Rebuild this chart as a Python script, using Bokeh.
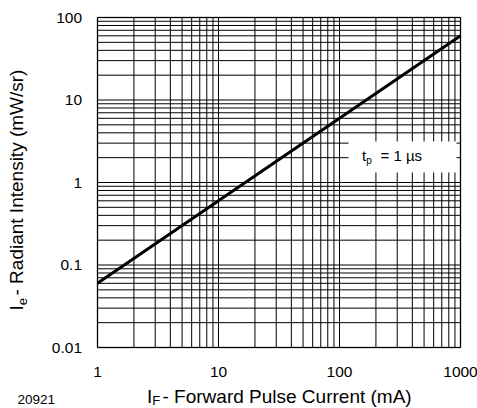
import numpy as np
from bokeh.plotting import figure
from bokeh.models import Label, BoxAnnotation, Range1d
from bokeh.core.properties import value
from bokeh.embed import file_html
from bokeh.resources import INLINE

# ---- data ----
forward_current_mA = [1, 1000]
radiant_intensity_mWsr = [0.06, 60]

x_major_ticks = [1, 10, 100, 1000]
x_tick_labels = ["1", "10", "100", "1000"]
x_minor_ticks = [m * d for d in (1, 10, 100) for m in range(2, 10)]

y_major_ticks = [0.01, 0.1, 1, 10, 100]
y_tick_labels = ["0.01", "0.1", "1", "10", "100"]
y_minor_ticks = [m * d for d in (0.01, 0.1, 1, 10) for m in range(2, 10)]

x_title = ("I", "F", " - Forward Pulse Current (mA)")
y_title = ("I", "e", " - Radiant Intensity (mW/sr)")
note = ("t", "p", "= 1 µs")
fig_id = "20921"

FONT = "Liberation Sans"
X_LO, X_HI = 1, 1000
Y_LO, Y_HI = 0.01, 100

# layout: canvas size and plot rectangle in canvas pixels (top-left origin)
W, H = 477, 408
FL, FT, FW, FH = 97, 17, 363, 330
XDEC = np.log10(X_HI / X_LO)
YDEC = np.log10(Y_HI / Y_LO)
BASE_FIX = 0.33  # text baseline correction, in em


def dx(px):
    return 10 ** (np.log10(X_LO) + (px - FL) / FW * XDEC)


def dy(py):
    return 10 ** (np.log10(Y_LO) + (FT + FH - py) / FH * YDEC)


# the frame spans the whole canvas; the log scales map the plot rectangle
p = figure(x_axis_type="log", y_axis_type="log",
           x_range=Range1d(dx(0), dx(W)), y_range=Range1d(dy(H), dy(0)),
           frame_width=W, frame_height=H,
           min_border=0, min_border_left=0, min_border_right=0,
           min_border_top=0, min_border_bottom=0, title=None,
           x_axis_location=None, y_axis_location=None,
           output_backend="svg", toolbar_location=None,
           background_fill_color="white", border_fill_color="white")
p.outline_line_color = None
p.grid.visible = False

# grid lines from the tick arrays
gx = x_major_ticks + x_minor_ticks
p.segment(x0=gx, x1=gx, y0=[Y_LO] * len(gx), y1=[Y_HI] * len(gx),
          line_color="black", line_width=1)
gy = y_major_ticks + y_minor_ticks
p.segment(x0=[X_LO] * len(gy), x1=[X_HI] * len(gy), y0=gy, y1=gy,
          line_color="black", line_width=1)

# data line
p.line(forward_current_mA, radiant_intensity_mWsr, line_color="black", line_width=3)

# plot border
p.add_layout(BoxAnnotation(left=X_LO, right=X_HI, bottom=Y_LO, top=Y_HI,
                           fill_alpha=0, line_color="black", line_width=2))

# annotation box
p.add_layout(BoxAnnotation(left=dx(348), right=dx(456), top=dy(141), bottom=dy(172),
                           fill_color="white", fill_alpha=1, line_color=None))

# tick labels
TICK_PX = 15.5
p.text(x=x_major_ticks, y=[dy(377 - BASE_FIX * TICK_PX)] * len(x_major_ticks),
       text=x_tick_labels, text_align="center", text_baseline="alphabetic",
       text_font=value(FONT), text_font_size=f"{TICK_PX}px", text_color="black")
p.text(x=[dx(81.5)] * len(y_major_ticks), y=y_major_ticks, text=y_tick_labels,
       text_align="right", text_baseline="alphabetic",
       y_offset=5.5 - BASE_FIX * TICK_PX,
       text_font=value(FONT), text_font_size=f"{TICK_PX}px", text_color="black")


def clbl(px, py, text, size, angle=0.0):
    # canvas units: origin top-left, y downward; (px, py) is the intended baseline start
    if angle:
        px = px - BASE_FIX * size
    else:
        py = py - BASE_FIX * size
    p.add_layout(Label(x=px, y=py, x_units="canvas", y_units="canvas",
                       text=text, angle=angle,
                       text_font=FONT, text_font_size=f"{size}px", text_color="black",
                       text_align="left", text_baseline="alphabetic"))


# note t_p = 1 µs
clbl(361.5, 159.5, note[0], 15)
clbl(365.7, 163.3, note[1], 10)
clbl(380, 159.5, note[2], 15)

# x title
clbl(146.5, 402, x_title[0], 19)
clbl(151.8, 404.5, x_title[1], 13)
clbl(162, 402, x_title[2], 19)

# y title (rotated)
ang = np.pi / 2
clbl(22, 310, y_title[0], 19, ang)
clbl(26.2, 304.7, y_title[1], 13, ang)
clbl(22, 295, y_title[2], 19, ang)

# figure id
clbl(17, 403, fig_id, 13.5)

open("out.html", "w").write(file_html(p, INLINE))
